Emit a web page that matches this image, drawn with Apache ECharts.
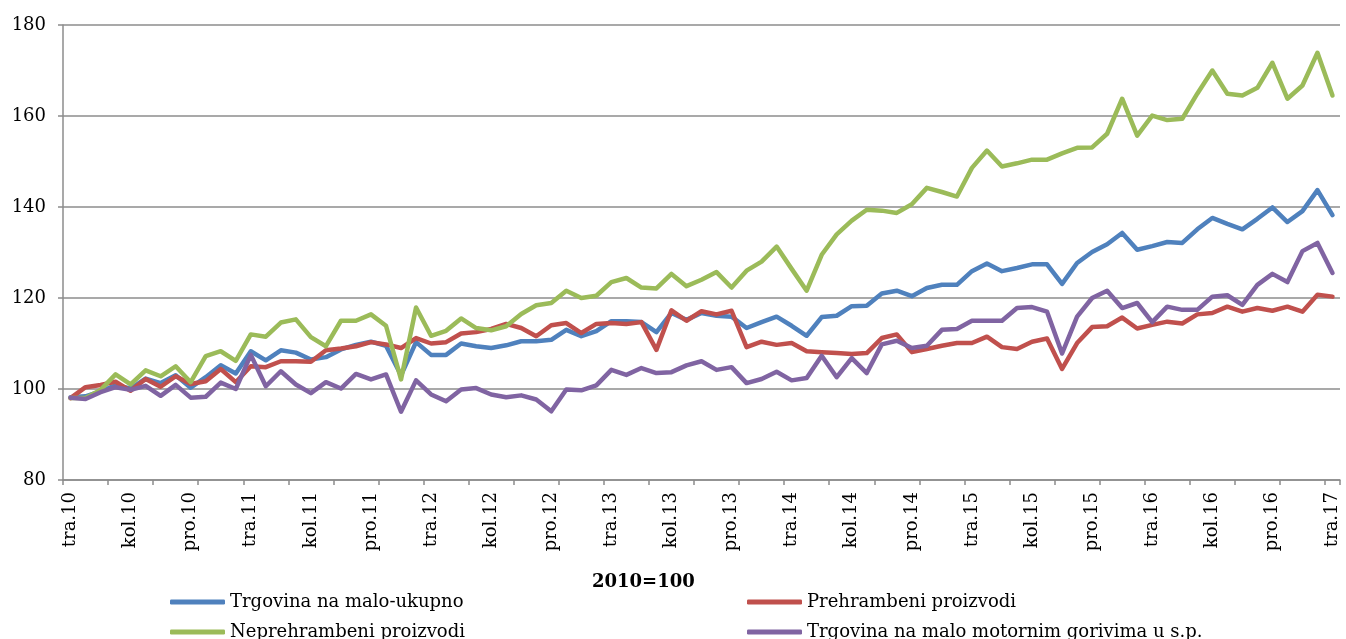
<!DOCTYPE html>
<html>
<head>
<meta charset="utf-8">
<script src="https://cdn.jsdelivr.net/npm/echarts@6/dist/echarts.min.js"></script>
<style>
  html, body { margin: 0; padding: 0; background: #fff; }
  #chart { width: 1346px; height: 639px; }
</style>
</head>
<body>
<div id="chart"></div>
<script>
// mjesečne oznake, tra.10 - tra.17
var monthNames = ['sij', 'velj', 'ožu', 'tra', 'svi', 'lip', 'srp', 'kol', 'ruj', 'lis', 'stu', 'pro'];
var startMonth = 3;   // travanj
var startYear = 10;
var monthCount = 85;

var categories = [];
for (var k = 0; k < monthCount; k++) {
    var m = (startMonth + k) % 12;
    var y = startYear + Math.floor((startMonth + k) / 12);
    categories.push(monthNames[m] + '.' + y);
}

var seriesNames = [
    'Trgovina na malo-ukupno',
    'Prehrambeni proizvodi',
    'Neprehrambeni proizvodi',
    'Trgovina na malo motornim gorivima u s.p.'
];

var ukupno = [
    98.2, 98.4, 99.5, 100.8, 100.1, 102.3, 101.3, 103.0, 100.3, 102.6,
    105.2, 103.4, 108.3, 106.3, 108.5, 108.0, 106.5, 107.0, 108.7, 109.7,
    110.4, 109.5, 103.0, 110.3, 107.5, 107.5, 110.0, 109.4, 109.0, 109.6,
    110.5, 110.5, 110.8, 113.0, 111.6, 112.7, 114.9, 114.9, 114.7, 112.5,
    116.7, 115.2, 116.7, 116.1, 115.9, 113.4, 114.7, 115.9, 113.9, 111.7,
    115.8, 116.1, 118.2, 118.3, 121.0, 121.6, 120.4, 122.2, 122.9, 122.9,
    125.9, 127.6, 125.9, 126.6, 127.4, 127.4, 123.1, 127.7, 130.1, 131.8,
    134.3, 130.6, 131.4, 132.3, 132.1, 135.1, 137.6, 136.3, 135.1, 137.4,
    139.9, 136.7, 139.1, 143.7, 138.2
];

var prehrambeni = [
    98.0, 100.4, 100.9, 101.6, 99.6, 102.2, 100.5, 102.8, 101.1, 101.7,
    104.4, 101.5, 105.0, 104.8, 106.1, 106.1, 106.0, 108.5, 108.9, 109.4,
    110.3, 109.8, 109.0, 111.2, 110.0, 110.3, 112.2, 112.5, 113.2, 114.3,
    113.4, 111.6, 114.0, 114.5, 112.3, 114.3, 114.5, 114.3, 114.7, 108.6,
    117.3, 115.0, 117.1, 116.4, 117.2, 109.2, 110.4, 109.7, 110.1, 108.3,
    108.1, 107.9, 107.7, 107.9, 111.2, 112.0, 108.1, 108.8, 109.5, 110.1,
    110.1, 111.5, 109.2, 108.8, 110.4, 111.1, 104.4, 110.1, 113.6, 113.8,
    115.7, 113.3, 114.1, 114.8, 114.4, 116.4, 116.7, 118.1, 117.0, 117.8,
    117.2, 118.1, 117.0, 120.7, 120.3
];

var neprehrambeni = [
    98.0, 98.0, 99.8, 103.2, 101.0, 104.1, 102.8, 105.0, 101.5, 107.2,
    108.3, 106.2, 112.0, 111.5, 114.6, 115.3, 111.4, 109.4, 115.0, 115.0,
    116.4, 113.9, 102.1, 117.9, 111.7, 112.8, 115.5, 113.4, 112.9, 113.8,
    116.5, 118.4, 118.9, 121.6, 120.0, 120.5, 123.5, 124.4, 122.3, 122.1,
    125.3, 122.6, 124.0, 125.7, 122.3, 126.0, 128.0, 131.3, 126.4, 121.6,
    129.5, 134.0, 137.0, 139.4, 139.2, 138.7, 140.6, 144.2, 143.3, 142.3,
    148.6, 152.4, 148.9, 149.6, 150.4, 150.4, 151.8, 153.0, 153.1, 156.1,
    163.8, 155.7, 160.1, 159.1, 159.4, 164.9, 170.0, 164.9, 164.5, 166.2,
    171.7, 163.8, 166.7, 173.9, 164.5
];

var goriva = [
    98.1, 97.8, 99.3, 100.4, 99.8, 100.7, 98.5, 100.9, 98.1, 98.3,
    101.4, 100.0, 107.5, 100.6, 103.9, 101.0, 99.1, 101.5, 100.1, 103.3,
    102.1, 103.2, 95.0, 101.9, 98.8, 97.3, 99.9, 100.2, 98.8, 98.2,
    98.6, 97.7, 95.1, 99.9, 99.7, 100.8, 104.2, 103.1, 104.6, 103.5,
    103.7, 105.2, 106.1, 104.2, 104.8, 101.3, 102.2, 103.8, 101.9, 102.4,
    107.3, 102.6, 106.8, 103.5, 109.8, 110.6, 109.0, 109.5, 113.0, 113.2,
    115.0, 115.0, 115.0, 117.8, 118.0, 117.0, 107.8, 115.9, 120.0, 121.6,
    117.8, 118.9, 114.7, 118.1, 117.4, 117.4, 120.3, 120.6, 118.5, 122.9,
    125.3, 123.5, 130.3, 132.1, 125.5
];

var colors = ['#4F81BD', '#C0504D', '#9BBB59', '#8064A2'];
var allData = [ukupno, prehrambeni, neprehrambeni, goriva];

var font = 'DejaVu Serif';
var gridColor = '#8c8c8c';

var myChart = echarts.init(document.getElementById('chart'));

var series = seriesNames.map(function (name, i) {
    return {
        name: name,
        type: 'line',
        data: allData[i],
        showSymbol: false,
        symbol: 'none',
        lineStyle: {width: 4.5, color: colors[i], cap: 'round', join: 'round'},
        itemStyle: {color: colors[i]},
        animation: false
    };
});

// legenda u dva stupca, svaka stavka zasebno
var legendPos = [[165, 587], [742, 587], [165, 617], [742, 617]];
var legends = seriesNames.map(function (name, i) {
    return {
        data: [name],
        left: legendPos[i][0],
        top: legendPos[i][1],
        itemWidth: 55,
        itemHeight: 5,
        icon: 'roundRect',
        textStyle: {fontFamily: font, fontSize: 18, color: '#000', lineHeight: 20}
    };
});

myChart.setOption({
    animation: false,
    color: colors,
    title: {
        text: '2010=100',
        left: 587,
        top: 568,
        textStyle: {fontFamily: font, fontSize: 18, fontWeight: 'bold', color: '#000'}
    },
    legend: legends,
    grid: {left: 63, right: 6, top: 25, bottom: 159, containLabel: false},
    xAxis: {
        type: 'category',
        data: categories,
        boundaryGap: true,
        axisLine: {lineStyle: {color: gridColor, width: 1.5}},
        axisTick: {show: true, interval: 2, length: 5, lineStyle: {color: gridColor, width: 1.5}},
        axisLabel: {
            interval: 3,
            rotate: 90,
            margin: 12,
            fontFamily: font,
            fontSize: 18,
            color: '#000'
        },
        splitLine: {show: false}
    },
    yAxis: {
        type: 'value',
        min: 80,
        max: 180,
        interval: 20,
        axisLine: {show: true, lineStyle: {color: gridColor, width: 1.5}},
        axisTick: {show: true, length: 5, lineStyle: {color: gridColor, width: 1.5}},
        axisLabel: {margin: 17, fontFamily: font, fontSize: 18, color: '#000'},
        splitLine: {show: true, lineStyle: {color: gridColor, width: 1.5}}
    },
    series: series
});
</script>
</body>
</html>
